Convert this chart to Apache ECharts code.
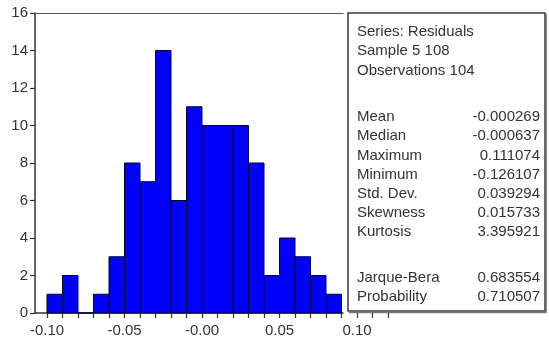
<!DOCTYPE html>
<html>
<head>
<meta charset="utf-8">
<script src="https://cdn.jsdelivr.net/npm/echarts@6/dist/echarts.min.js"></script>
<style>
html,body{margin:0;padding:0;background:#fff;}
#c{width:549px;height:348px;}
</style>
</head>
<body>
<div id="c"></div>
<script>
// ---- data ----
var binStarts = [-0.10,-0.09,-0.08,-0.07,-0.06,-0.05,-0.04,-0.03,-0.02,-0.01,0.00,0.01,0.02,0.03,0.04,0.05,0.06,0.07,0.08];
var binWidth = 0.01;
var counts = [1,2,0,1,3,8,7,14,6,11,10,10,10,8,2,4,3,2,1];
var yTicks = [0,2,4,6,8,10,12,14,16];
var xTickLabels = ['-0.10','-0.05','-0.00','0.05','0.10'];
var headerLines = ['Series: Residuals','Sample 5 108','Observations 104'];
var statNames = ['Mean','Median','Maximum','Minimum','Std. Dev.','Skewness','Kurtosis'];
var statValues = ['-0.000269','-0.000637','0.111074','-0.126107','0.039294','0.015733','3.395921'];
var testNames = ['Jarque-Bera','Probability'];
var testValues = ['0.683554','0.710507'];

var FONT = '"Liberation Sans", Arial, sans-serif';
var TXT = '#333';

var histData = binStarts.map(function(s,i){ return [s, s+binWidth, counts[i]]; });

var chart = echarts.init(document.getElementById('c'), null, {renderer:'canvas'});

// stats box text
var graphics = [];
graphics.push({type:'rect', z:100, shape:{x:348, y:13, width:197, height:298},
  style:{fill:'#fff', stroke:'#3a3a3a', lineWidth:1.5}});
graphics.push({type:'line', z:101, shape:{x1:349, y1:312.5, x2:546, y2:312.5}, style:{stroke:'#777', lineWidth:1.5}});
graphics.push({type:'line', z:101, shape:{x1:546.5, y1:14, x2:546.5, y2:313}, style:{stroke:'#888', lineWidth:1}});
var lineY0 = 32, lineStep = 19.2;
headerLines.forEach(function(t,i){
  graphics.push({type:'text', z:102, x:357, y:lineY0 + i*lineStep,
    style:{text:t, font:'15px '+FONT, fill:TXT, textVerticalAlign:'middle', verticalAlign:'middle'}});
});
var statY0 = 117;
statNames.forEach(function(t,i){
  var y = statY0 + i*lineStep;
  graphics.push({type:'text', z:102, x:357, y:y,
    style:{text:t, font:'15px '+FONT, fill:TXT, verticalAlign:'middle'}});
  graphics.push({type:'text', z:102, x:540, y:y,
    style:{text:statValues[i], font:'15px '+FONT, fill:TXT, align:'right', verticalAlign:'middle'}});
});
var testY0 = 278;
testNames.forEach(function(t,i){
  var y = testY0 + i*lineStep;
  graphics.push({type:'text', z:102, x:357, y:y,
    style:{text:t, font:'15px '+FONT, fill:TXT, verticalAlign:'middle'}});
  graphics.push({type:'text', z:102, x:540, y:y,
    style:{text:testValues[i], font:'15px '+FONT, fill:TXT, align:'right', verticalAlign:'middle'}});
});

var option = {
  animation:false,
  backgroundColor:'#fff',
  grid:[
    {left:35, right:206, top:13, bottom:35},
    {left:47, right:161, top:13, bottom:35}
  ],
  xAxis:[
    {gridIndex:0, type:'value', min:0, max:1, position:'bottom',
     axisLine:{show:true, lineStyle:{color:'#333', width:1.5}}, axisTick:{show:false}, axisLabel:{show:false}, splitLine:{show:false}},
    {gridIndex:0, type:'value', min:0, max:1, position:'top',
     axisLine:{show:true, lineStyle:{color:'#555', width:1.2}}, axisTick:{show:false}, axisLabel:{show:false}, splitLine:{show:false}},
    {gridIndex:1, type:'value', min:-0.10, max:0.12, interval:0.01, position:'bottom',
     axisLine:{show:false},
     axisTick:{show:true, length:5, lineStyle:{color:'#333', width:1.2}},
     axisLabel:{show:true, margin:10, color:TXT, fontSize:15, fontFamily:FONT,
       showMinLabel:true, showMaxLabel:true,
       formatter:function(v){
         var r = Math.round(v*100);
         if (r % 5 !== 0 || r > 10) return '';
         var idx = (r + 10)/5;
         return xTickLabels[idx] || '';
       }},
     splitLine:{show:false}}
  ],
  yAxis:[
    {gridIndex:0, type:'value', min:0, max:16, interval:2,
     axisLine:{show:true, lineStyle:{color:'#333', width:1.5}},
     axisTick:{show:true, length:5, lineStyle:{color:'#333', width:1.2}},
     axisLabel:{color:TXT, fontSize:15, fontFamily:FONT, margin:7,
       formatter:function(v){ return yTicks.indexOf(v) >= 0 ? String(v) : ''; }},
     splitLine:{show:false}},
    {gridIndex:1, type:'value', min:0, max:16, interval:2, show:false}
  ],
  series:[{
    type:'custom',
    xAxisIndex:2, yAxisIndex:1,
    data: histData,
    encode:{x:[0,1], y:2},
    renderItem:function(params, api){
      var p0 = api.coord([api.value(0), api.value(2)]);
      var p1 = api.coord([api.value(1), 0]);
      return {type:'rect', shape:{x:p0[0], y:p0[1], width:p1[0]-p0[0], height:p1[1]-p0[1]},
        style:{fill:'#0000ff', stroke:'#000033', lineWidth:1}};
    }
  }],
  graphic: graphics
};
chart.setOption(option);
</script>
</body>
</html>
